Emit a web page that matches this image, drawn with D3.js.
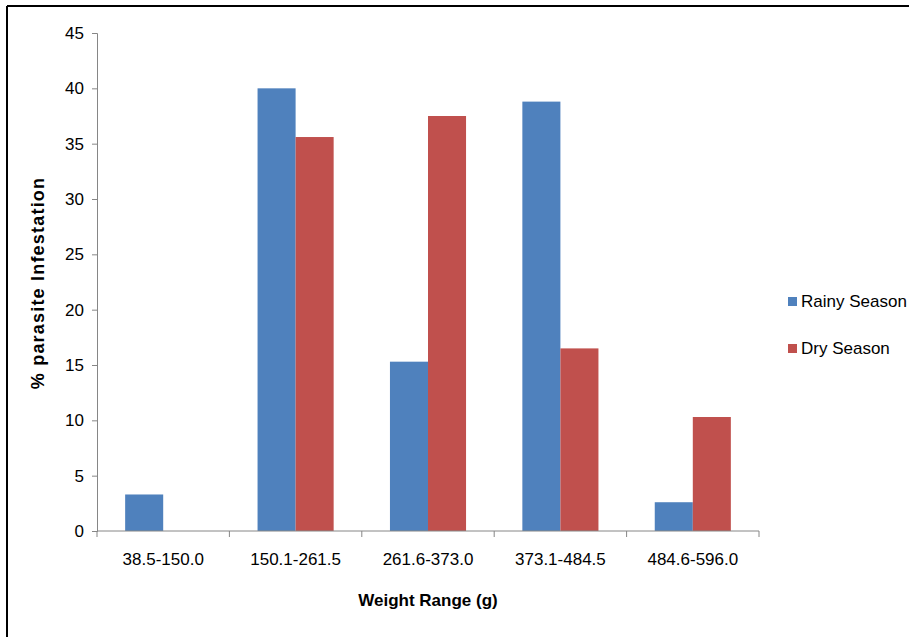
<!DOCTYPE html>
<html><head><meta charset="utf-8">
<script src="https://cdn.jsdelivr.net/npm/d3@7"></script>
<style>body{margin:0;background:#fff;}svg{display:block;}</style>
</head><body>
<svg id="c" width="909" height="637"></svg>
<script>
const categories = ["38.5-150.0","150.1-261.5","261.6-373.0","373.1-484.5","484.6-596.0"];
const rainySeason = [3.3, 40.0, 15.3, 38.8, 2.6];
const drySeason = [0, 35.6, 37.5, 16.5, 10.3];
const seriesNames = ["Rainy Season","Dry Season"];
const seriesColors = ["#4F81BD","#C0504D"];
const yTicks = [0,5,10,15,20,25,30,35,40,45];

const FONT = "'Liberation Sans Narrow', 'Arial Narrow', 'Liberation Sans', sans-serif";
const svg = d3.select("#c");
// frame
svg.append("line").attr("x1",7).attr("y1",6).attr("x2",909).attr("y2",6).attr("stroke","#000").attr("stroke-width",2);
svg.append("line").attr("x1",7).attr("y1",6).attr("x2",7).attr("y2",637).attr("stroke","#000").attr("stroke-width",2);

const L=97, R=759, T=33, B=531;
const x = d3.scaleBand().domain(categories).range([L,R]).paddingInner(0).paddingOuter(0);
const xs = d3.scaleBand().domain(seriesNames).range([0,x.bandwidth()]).paddingInner(0).paddingOuter(0.74);
const y = d3.scaleLinear().domain([0,45]).range([B,T]);

const data = categories.map((c,i)=>({c, vals:[rainySeason[i], drySeason[i]]}));
const g = svg.append("g");
g.selectAll("g.cat").data(data).join("g").attr("class","cat")
 .attr("transform",d=>`translate(${x(d.c)},0)`)
 .selectAll("rect").data(d=>d.vals.map((v,j)=>({v,j}))).join("rect")
 .attr("x",d=>xs(seriesNames[d.j])).attr("width",xs.bandwidth())
 .attr("y",d=>y(d.v)).attr("height",d=>B-y(d.v))
 .attr("fill",d=>seriesColors[d.j]);

// y axis
const ya = svg.append("g").attr("transform",`translate(${L},0)`)
 .call(d3.axisLeft(y).tickValues(yTicks).tickSize(5).tickPadding(8).tickFormat(d3.format("d")));
ya.select(".domain").attr("stroke","#868686");
ya.selectAll(".tick line").attr("stroke","#868686");
ya.selectAll("text").attr("font-family",FONT).attr("font-size",17).attr("fill","#000");

// x axis
const xa = svg.append("g").attr("transform",`translate(0,${B})`)
 .call(d3.axisBottom(x).tickSize(0).tickPadding(22));
xa.select(".domain").attr("stroke","#868686").attr("d",`M${L},0H${R}`);
xa.selectAll("text").attr("font-family",FONT).attr("font-size",17).attr("fill","#000");
const bounds = categories.map(c=>x(c)).concat([R]);
svg.append("g").selectAll("line").data(bounds).join("line")
 .attr("x1",d=>d).attr("x2",d=>d).attr("y1",B).attr("y2",B+6).attr("stroke","#868686");

// titles
svg.append("text").attr("x",428).attr("y",606).attr("text-anchor","middle")
 .attr("font-family",FONT).attr("font-weight","bold").attr("font-size",17).text("Weight Range (g)");
svg.append("text").attr("transform","translate(44,283) rotate(-90)").attr("text-anchor","middle")
 .attr("font-family",FONT).attr("font-weight","bold").attr("font-size",18).attr("letter-spacing",1.2).text("% parasite Infestation");

// legend
const lg = svg.append("g").selectAll("g").data(seriesNames).join("g")
 .attr("transform",(d,i)=>`translate(788,${297+i*47})`);
lg.append("rect").attr("width",9).attr("height",9).attr("fill",(d,i)=>seriesColors[i]);
lg.append("text").attr("x",13).attr("y",10).attr("font-family",FONT).attr("font-size",17).text(d=>d);
</script>
</body></html>
